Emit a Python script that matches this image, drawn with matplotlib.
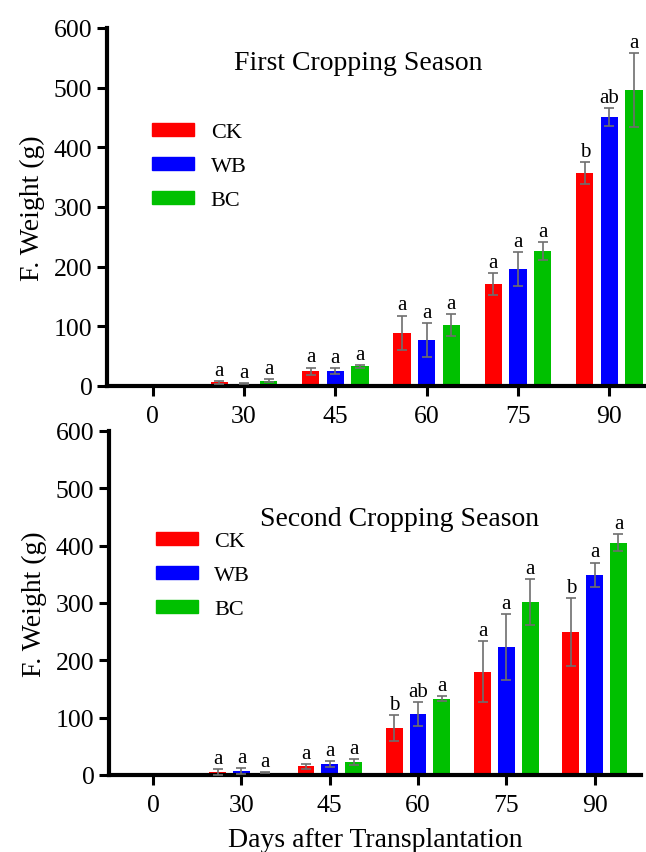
import numpy as np
import matplotlib
matplotlib.use('Agg')
import matplotlib.pyplot as plt
from matplotlib.patches import Patch

plt.rcParams['font.family'] = ['Liberation Serif', 'DejaVu Serif']

days = ['0', '30', '45', '60', '75', '90']
treatments = ['CK', 'WB', 'BC']
colors = ['#ff0000', '#0000ff', '#00c000']

# first cropping season
s1_ck = [0, 6, 25, 89, 171, 357]
s1_wb = [0, 4, 25, 77, 196, 451]
s1_bc = [0, 9, 33, 102, 226, 496]
s1_ck_err = [0, 2, 6, 29, 18, 18]
s1_wb_err = [0, 1, 5, 28, 28, 15]
s1_bc_err = [0, 2, 2, 18, 15, 62]
s1_ck_let = ['', 'a', 'a', 'a', 'a', 'b']
s1_wb_let = ['', 'a', 'a', 'a', 'a', 'ab']
s1_bc_let = ['', 'a', 'a', 'a', 'a', 'a']

# second cropping season
s2_ck = [0, 5, 15, 82, 180, 249]
s2_wb = [0, 7, 19, 106, 223, 349]
s2_bc = [0, 4, 23, 133, 302, 405]
s2_ck_err = [0, 5, 4, 22, 53, 59]
s2_wb_err = [0, 5, 5, 21, 58, 21]
s2_bc_err = [0, 1, 5, 4, 40, 15]
s2_ck_let = ['', 'a', 'a', 'b', 'a', 'b']
s2_wb_let = ['', 'a', 'a', 'ab', 'a', 'a']
s2_bc_let = ['', 'a', 'a', 'a', 'a', 'a']

W, H = 646, 853


def draw_panel(ax, vals, errs, lets, title, title_xy, leg_xy, xmax):
    x = np.arange(len(days))
    offs = [-0.27, 0, 0.27]
    for v, e, l, c, o in zip(vals, errs, lets, colors, offs):
        ax.bar(x + o, v, width=0.19, color=c, zorder=2)
        idx = [i for i in range(len(v)) if e[i] > 0]
        ax.errorbar(x[idx] + o, np.array(v)[idx], yerr=np.array(e)[idx],
                    fmt='none', ecolor='#6e6e6e', elinewidth=1.2,
                    capsize=3.5, capthick=1.2, zorder=3)
        for i in idx:
            ax.annotate(l[i], (x[i] + o, v[i] + e[i]), xytext=(0, 1),
                        textcoords='offset points', ha='center', va='bottom',
                        fontsize=15)
    ax.set_ylim(0, 600)
    ax.set_xlim(-0.5, xmax)
    ax.set_yticks(range(0, 601, 100))
    ax.set_xticks(x)
    ax.set_xticklabels(days)
    ax.spines['top'].set_visible(False)
    ax.spines['right'].set_visible(False)
    ax.spines['left'].set_linewidth(3)
    ax.spines['bottom'].set_linewidth(3)
    ax.tick_params(direction='out', length=7.5, width=2.2, labelsize=18.5, pad=3)
    ax.tick_params(axis='x', pad=6)
    ax.set_ylabel('F. Weight (g)', fontsize=20, labelpad=6)
    ax.text(title_xy[0], title_xy[1], title, fontsize=20, va='center')
    handles = [Patch(color=c) for c in colors]
    ax.legend(handles, treatments, loc='upper left', bbox_to_anchor=leg_xy,
              frameon=False, fontsize=16, handlelength=1.9, handleheight=0.55,
              handletextpad=0.75, labelspacing=0.65, borderpad=0, borderaxespad=0)


fig = plt.figure(figsize=(W / 100, H / 100), dpi=100)
ax1 = fig.add_axes([107 / W, 1 - 387 / H, 539 / W, 358 / H])
ax2 = fig.add_axes([109 / W, 1 - 776 / H, 532 / W, 344 / H])

draw_panel(ax1, [s1_ck, s1_wb, s1_bc], [s1_ck_err, s1_wb_err, s1_bc_err],
           [s1_ck_let, s1_wb_let, s1_bc_let], 'First Cropping Season',
           (0.89, 543), (0.083, 0.735), 5.40)
draw_panel(ax2, [s2_ck, s2_wb, s2_bc], [s2_ck_err, s2_wb_err, s2_bc_err],
           [s2_ck_let, s2_wb_let, s2_bc_let], 'Second Cropping Season',
           (1.21, 447), (0.0875, 0.707), 5.525)
ax2.set_xlabel('Days after Transplantation', fontsize=20, labelpad=8)

fig.savefig('out.png', dpi=100)
